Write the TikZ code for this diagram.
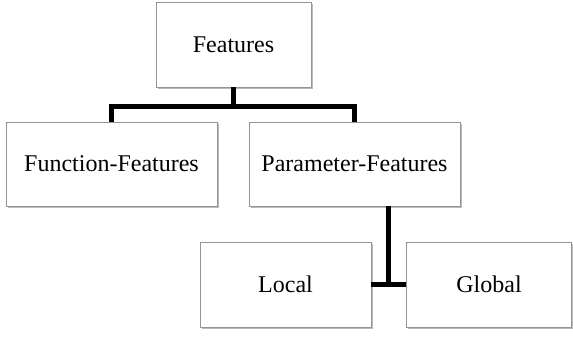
\documentclass[tikz,border=0pt]{standalone}
\usepackage{fontspec}
\setmainfont{Liberation Serif}
\usetikzlibrary{shadows,calc}
\begin{document}
\begin{tikzpicture}[x=1pt,y=-1pt,
  box/.style={draw=black!42, line width=0.9pt, fill=white, inner sep=0pt,
    font=\fontsize{24}{28}\selectfont,
    drop shadow={shadow xshift=1.5pt, shadow yshift=-1.8pt, fill=black!45, opacity=0.6}},
  link/.style={line width=5pt, line join=miter, line cap=butt}]
\useasboundingbox (0,0) rectangle (573,337);
\node[box, minimum width=155pt, minimum height=85pt] (feat) at (233.5,44.5) {Features};
\node[box, minimum width=211pt, minimum height=84pt] (func) at (111.5,164) {Function-Features};
\node[box, minimum width=211pt, minimum height=84pt] (param) at (354.5,164) {Parameter-Features};
\node[box, minimum width=171pt, minimum height=85pt] (loc) at (285.5,284.5) {Local};
\node[box, minimum width=165pt, minimum height=85pt] (glob) at (489,284.5) {Global};
\coordinate (bus) at ($(feat.south)+(0,19)$);
\draw[link] (feat.south) -- (bus) -| (func.north);
\draw[link] (bus) -| (param.north);
\coordinate (j) at ($(loc.east)!0.5!(glob.west)$);
\draw[link] (loc.east) -- (glob.west);
\draw[link] (j) -- (j |- param.south);
\end{tikzpicture}
\end{document}
